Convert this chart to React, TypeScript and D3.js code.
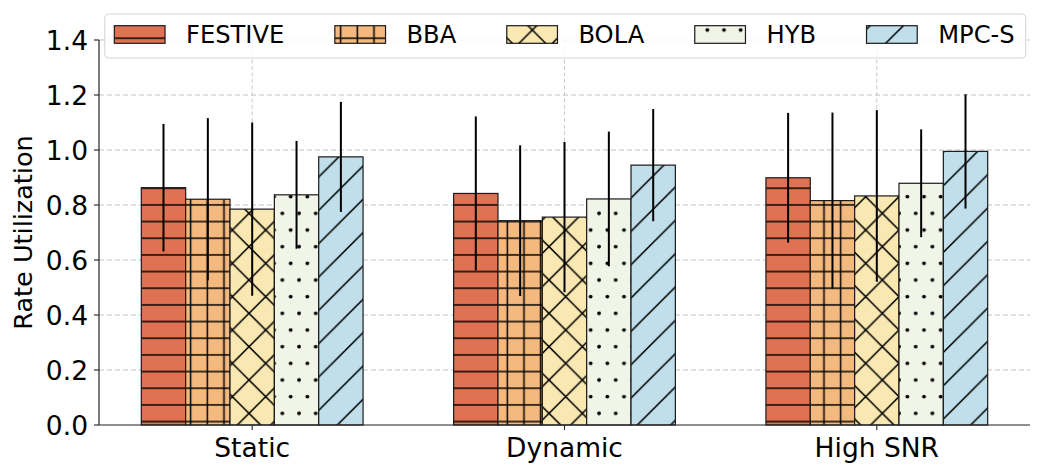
import { useEffect, useRef } from 'react'
import * as d3 from 'd3'

const categories = ['Static', 'Dynamic', 'High SNR']
const seriesNames = ['FESTIVE', 'BBA', 'BOLA', 'HYB', 'MPC-S']

// mean rate utilization per category, and error (symmetric)
const festiveMean = [0.863, 0.842, 0.899]
const festiveErr = [0.232, 0.28, 0.236]
const bbaMean = [0.821, 0.743, 0.816]
const bbaErr = [0.295, 0.274, 0.32]
const bolaMean = [0.785, 0.756, 0.833]
const bolaErr = [0.315, 0.273, 0.312]
const hybMean = [0.837, 0.822, 0.879]
const hybErr = [0.196, 0.245, 0.196]
const mpcMean = [0.975, 0.945, 0.995]
const mpcErr = [0.2, 0.204, 0.208]

const yTicks = [0, 0.2, 0.4, 0.6, 0.8, 1.0, 1.2, 1.4]

const COLORS = ['#E07254', '#F4B97E', '#FAE8B2', '#F1F5E7', '#C0DFEB']
const HATCHES = ['-', '+', 'x', '.', '/']

const W = 1047
const H = 469
const M = { l: 99, r: 1030, t: 40, b: 425 }
const BAR_W = 0.142
const FONT = 'DejaVu Sans, sans-serif'
const T = 100 / 3 // hatch tile size (px)

export default function App() {
  const ref = useRef<SVGSVGElement>(null)

  useEffect(() => {
    const svg = d3.select(ref.current!)
    svg.selectAll('*').remove()

    const means = [festiveMean, bbaMean, bolaMean, hybMean, mpcMean]
    const errs = [festiveErr, bbaErr, bolaErr, hybErr, mpcErr]

    const n = seriesNames.length
    const half = (n / 2) * BAR_W
    const span = categories.length - 1 + 2 * half
    const pad = span * 0.05
    const x = d3.scaleLinear().domain([-half - pad, categories.length - 1 + half + pad]).range([M.l, M.r])
    const y = d3.scaleLinear().domain([0, 1.4]).range([M.b, M.t])

    // hatch patterns
    const defs = svg.append('defs')
    HATCHES.forEach((h, i) => {
      const p = defs.append('pattern')
        .attr('id', `hatch${i}`)
        .attr('patternUnits', 'userSpaceOnUse')
        .attr('x', 0).attr('y', 0)
        .attr('width', T).attr('height', T)
      p.append('rect').attr('width', T).attr('height', T).attr('fill', COLORS[i])
      const line = (x1: number, y1: number, x2: number, y2: number) =>
        p.append('line').attr('x1', x1).attr('y1', y1).attr('x2', x2).attr('y2', y2)
          .attr('stroke', '#000').attr('stroke-width', 1.5)
      if (h === '-' || h === '+') {
        for (const yy of [5, 5 + T / 2]) line(-1, yy, T + 1, yy)
      }
      if (h === '+') {
        for (const xx of [7.33, 7.33 + T / 2]) line(xx, -1, xx, T + 1)
      }
      if (h === 'x' || h === '/') {
        for (const c of [29 - T, 29, 29 + T, 29 + 2 * T]) line(c + 40, -40, c - 40 - T, 40 + T)
      }
      if (h === 'x') {
        for (const c of [2.33 - 2 * T, 2.33 - T, 2.33, 2.33 + T]) line(c - 40, -40, c + 40 + T, 40 + T)
      }
      if (h === '.') {
        const pts: [number, number][] = [
          [15.67, 13.33], [15.67 + T / 2, 13.33],
          [7.33, 13.33 + T / 2], [7.33 + T / 2, 13.33 + T / 2],
        ]
        for (const [px, py] of pts)
          for (const dx of [-T, 0, T])
            for (const dy of [-T, 0, T])
              p.append('circle').attr('cx', px + dx).attr('cy', py + dy).attr('r', 1.9).attr('fill', '#000')
      }
    })

    // grid
    svg.append('g').selectAll('line')
      .data(yTicks.filter(t => t > 0))
      .join('line')
      .attr('x1', M.l).attr('x2', M.r)
      .attr('y1', d => y(d)).attr('y2', d => y(d))
      .attr('stroke', '#c4c4c4').attr('stroke-width', 1.1).attr('stroke-dasharray', '5,3')
    svg.append('g').selectAll('line')
      .data(categories.map((_, i) => i))
      .join('line')
      .attr('x1', d => x(d)).attr('x2', d => x(d))
      .attr('y1', M.t).attr('y2', M.b)
      .attr('stroke', '#c4c4c4').attr('stroke-width', 0.9).attr('stroke-dasharray', '4,2.5')

    // bars
    const bars = svg.append('g')
    means.forEach((vals, s) => {
      const off = (s - (n - 1) / 2) * BAR_W
      bars.selectAll(null)
        .data(vals)
        .join('rect')
        .attr('x', (_, i) => x(i + off - BAR_W / 2))
        .attr('y', d => y(d))
        .attr('width', x(BAR_W) - x(0))
        .attr('height', d => y(0) - y(d))
        .attr('fill', `url(#hatch${s})`)
        .attr('stroke', '#1a1a1a').attr('stroke-width', 1.2)
    })

    // error bars
    const eb = svg.append('g')
    means.forEach((vals, s) => {
      const off = (s - (n - 1) / 2) * BAR_W
      eb.selectAll(null)
        .data(vals)
        .join('line')
        .attr('x1', (_, i) => x(i + off)).attr('x2', (_, i) => x(i + off))
        .attr('y1', (d, i) => y(d - errs[s][i]))
        .attr('y2', (d, i) => y(d + errs[s][i]))
        .attr('stroke', '#000').attr('stroke-width', 2)
    })

    // axes
    const ax = svg.append('g')
    ax.append('line').attr('x1', M.l).attr('x2', M.l).attr('y1', M.t).attr('y2', M.b)
      .attr('stroke', '#222').attr('stroke-width', 1.2)
    ax.append('line').attr('x1', M.l).attr('x2', M.r).attr('y1', M.b).attr('y2', M.b)
      .attr('stroke', '#222').attr('stroke-width', 1.2)
    yTicks.forEach(t => {
      ax.append('line').attr('x1', M.l - 5).attr('x2', M.l).attr('y1', y(t)).attr('y2', y(t))
        .attr('stroke', '#222').attr('stroke-width', 1.1)
      ax.append('text').attr('x', M.l - 11).attr('y', y(t)).attr('dy', '0.36em')
        .attr('text-anchor', 'end').attr('font-family', FONT).attr('font-size', 26.5)
        .text(d3.format('.1f')(t))
    })
    categories.forEach((c, i) => {
      ax.append('line').attr('x1', x(i)).attr('x2', x(i)).attr('y1', M.b).attr('y2', M.b + 5)
        .attr('stroke', '#222').attr('stroke-width', 1.1)
      ax.append('text').attr('x', x(i)).attr('y', 456.5)
        .attr('text-anchor', 'middle').attr('font-family', FONT).attr('font-size', 26.5)
        .text(c)
    })
    ax.append('text')
      .attr('transform', `translate(32,${(M.t + M.b) / 2}) rotate(-90)`)
      .attr('text-anchor', 'middle').attr('font-family', FONT).attr('font-size', 25.5)
      .text('Rate Utilization')

    // legend
    const lg = svg.append('g')
    const box = lg.append('rect')
    const handleW = 50.7
    const handleH = 17.6
    const textPad = 21
    const colGap = 50.5
    let cx = 0
    const items = lg.append('g')
    seriesNames.forEach((name, s) => {
      items.append('rect').attr('x', cx).attr('y', 25.7).attr('width', handleW).attr('height', handleH)
        .attr('fill', `url(#hatch${s})`).attr('stroke', '#1a1a1a').attr('stroke-width', 1.2)
      const t = items.append('text').attr('x', cx + handleW + textPad).attr('y', 42.7)
        .attr('font-family', FONT).attr('font-size', 24.2).text(name)
      const tw = (t.node() as SVGTextElement).getComputedTextLength()
      cx += handleW + textPad + tw + (s < n - 1 ? colGap : 0)
    })
    const cxMid = (M.l + M.r) / 2
    const x0 = cxMid - cx / 2
    // hatch patterns are in user space, so shift per-element coordinates
    items.selectAll<SVGRectElement, unknown>('rect').each(function () {
      const r = d3.select(this)
      r.attr('x', +r.attr('x') + x0)
    })
    items.selectAll<SVGTextElement, unknown>('text').each(function () {
      const t = d3.select(this)
      t.attr('x', +t.attr('x') + x0)
    })
    box.attr('x', x0 - 9.5).attr('y', 14).attr('width', cx + 20.5).attr('height', 44)
      .attr('rx', 4).attr('fill', '#fff').attr('fill-opacity', 0.8)
      .attr('stroke', '#d6d6d6').attr('stroke-width', 1.1)
  }, [])

  return (
    <svg
      ref={ref}
      width={W}
      height={H}
      style={{ position: 'absolute', left: 0, top: 0, background: '#fff' }}
    />
  )
}
